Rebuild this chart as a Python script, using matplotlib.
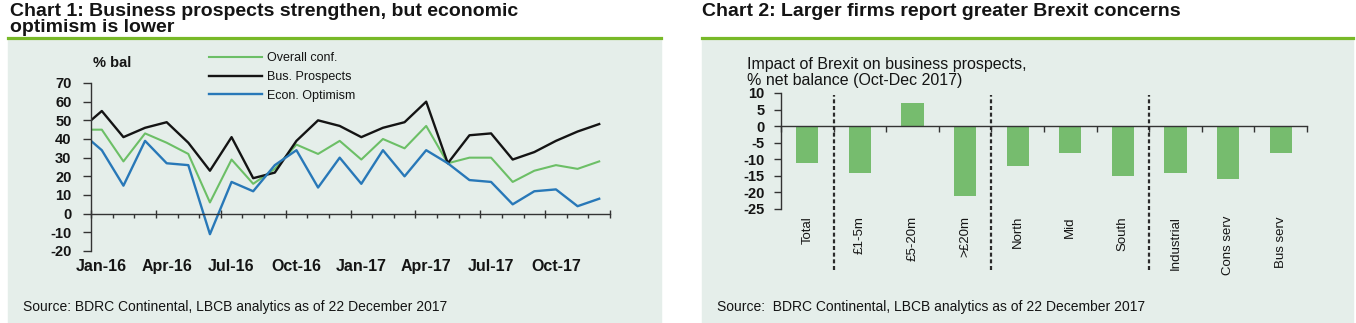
import numpy as np
import matplotlib.pyplot as plt
import matplotlib.transforms as mtrans
from matplotlib.lines import Line2D
from matplotlib.patches import Rectangle

plt.rcParams['font.family'] = ['Liberation Sans', 'DejaVu Sans']
plt.rcParams['axes.unicode_minus'] = False

# --- chart 1: monthly survey balances (% bal); the opening reading sits on the axis edge
months = ['Jan-16', 'Feb-16', 'Mar-16', 'Apr-16', 'May-16', 'Jun-16',
          'Jul-16', 'Aug-16', 'Sep-16', 'Oct-16', 'Nov-16', 'Dec-16',
          'Jan-17', 'Feb-17', 'Mar-17', 'Apr-17', 'May-17', 'Jun-17',
          'Jul-17', 'Aug-17', 'Sep-17', 'Oct-17', 'Nov-17', 'Dec-17']
overall_conf = [45, 45, 28, 43, 38, 32, 6, 29, 16, 24, 37, 32, 39,
                29, 40, 35, 47, 27, 30, 30, 17, 23, 26, 24, 28]
bus_prospects = [50, 55, 41, 46, 49, 38, 23, 41, 19, 22, 39, 50, 47,
                 41, 46, 49, 60, 27, 42, 43, 29, 33, 39, 44, 48]
econ_optimism = [39, 34, 15, 39, 27, 26, -11, 17, 12, 26, 34, 14, 30,
                 16, 34, 20, 34, 27, 18, 17, 5, 12, 13, 4, 8]

# --- chart 2: impact of Brexit on business prospects, % net balance
categories = ['Total', '£1-5m', '£5-20m', '>£20m', 'North', 'Mid', 'South',
              'Industrial', 'Cons serv', 'Bus serv']
brexit_impact = [-11, -14, 7, -21, -12, -8, -15, -14, -16, -8]
group_sizes = [1, 3, 3, 3]   # total / turnover / region / sector

source = 'BDRC Continental, LBCB analytics as of 22 December 2017'

W, H = 1356, 323
BG = '#e5eeea'
RULE = '#78b928'
GREEN = '#6cbf66'
BLUE = '#2878b8'
BLACK = '#141414'
BAR = '#76bc6e'
TXT = '#141414'
AXC = '#333333'


def fx(px):
    return px / W


def fy(py):
    return 1 - py / H


fig = plt.figure(figsize=(W / 100, H / 100), dpi=100)
fig.patch.set_facecolor('white')

# panel backgrounds and green rules under the titles
for x0, x1 in [(8, 661), (702, 1353)]:
    fig.add_artist(Rectangle((fx(x0), 0), fx(x1 - x0), fy(38.5),
                             transform=fig.transFigure, color=BG, zorder=0))
    fig.add_artist(Line2D([fx(x0), fx(x1)], [fy(37.5)] * 2, color=RULE,
                          lw=2.3, transform=fig.transFigure))

fig.text(fx(10), fy(3), 'Chart 1: Business prospects strengthen, but economic\noptimism is lower',
         ha='left', va='top', fontsize=14, fontweight='bold', linespacing=0.95, color=TXT)
fig.text(fx(702), fy(3), 'Chart 2: Larger firms report greater Brexit concerns',
         ha='left', va='top', fontsize=14, fontweight='bold', color=TXT)

# ---------------- chart 1 ----------------
ax1 = fig.add_axes([fx(91), fy(251), fx(610 - 91), (251 - 83) / H])
ax1.set_facecolor('none')
x = np.concatenate(([-0.5], np.arange(len(months))))
ax1.plot(x, overall_conf, color=GREEN, lw=1.5, label='Overall conf.')
ax1.plot(x, bus_prospects, color=BLACK, lw=1.7, label='Bus. Prospects')
ax1.plot(x, econ_optimism, color=BLUE, lw=1.7, label='Econ. Optimism')
ax1.set_xlim(-0.5, len(months) - 0.5)
ax1.set_ylim(-20, 70)
ax1.set_yticks(range(-20, 71, 10))
ax1.spines[['top', 'right']].set_visible(False)
ax1.spines['bottom'].set_position(('data', 0))
for sp in ax1.spines.values():
    sp.set_color(AXC)
    sp.set_linewidth(1.0)
ax1.set_xticks(np.arange(-0.5, len(months), 3))
ax1.set_xticks(np.arange(-0.5, len(months), 1), minor=True)
ax1.tick_params(axis='x', which='major', direction='inout', length=6, width=1.0,
                color=AXC, labelbottom=False)
ax1.tick_params(axis='x', which='minor', direction='out', length=3, width=1.0,
                color=AXC)
ax1.tick_params(axis='y', direction='out', length=6, width=1.0, color=AXC,
                labelsize=10.5, labelcolor=TXT, pad=8)
for lab in ax1.get_yticklabels():
    lab.set_fontweight('bold')
# month labels sit below the plot, not on the zero line
tr1 = mtrans.blended_transform_factory(ax1.transData, ax1.transAxes)
for i in range(0, len(months), 3):
    ax1.text(i, (251 - 271) / 168, months[i], transform=tr1, ha='center', va='baseline',
             fontsize=11.5, fontweight='bold', color=TXT)

fig.text(fx(93), fy(63), '% bal', ha='left', va='center', fontsize=10.5,
         fontweight='bold', color=TXT)
ax1.legend(loc='upper left', bbox_to_anchor=(fx(209), fy(52)), bbox_transform=fig.transFigure,
           frameon=False, fontsize=9, handlelength=4.2, handletextpad=0.45,
           labelspacing=0.55, borderpad=0, borderaxespad=0, labelcolor=TXT)

# ---------------- chart 2 ----------------
ax2 = fig.add_axes([fx(781), fy(209), fx(1307 - 781), (209 - 93) / H])
ax2.set_facecolor('none')
pos = np.arange(len(categories))
ax2.bar(pos, brexit_impact, width=0.42, color=BAR, zorder=2)
ax2.set_xlim(-0.5, len(categories) - 0.5)
ax2.set_ylim(-25, 10)
ax2.set_yticks(range(-25, 11, 5))
ax2.spines[['top', 'right']].set_visible(False)
ax2.spines['bottom'].set_position(('data', 0))
for sp in ax2.spines.values():
    sp.set_color(AXC)
    sp.set_linewidth(1.0)
    sp.set_zorder(3)
ax2.set_xticks(np.arange(-0.5, len(categories), 1))
ax2.tick_params(axis='x', direction='out', length=4, width=1.0, color=AXC,
                labelbottom=False)
ax2.tick_params(axis='y', direction='out', length=5, width=1.0, color=AXC,
                labelsize=10.5, labelcolor=TXT, pad=7)
for lab in ax2.get_yticklabels():
    lab.set_fontweight('bold')
tr2 = mtrans.blended_transform_factory(ax2.transData, ax2.transAxes)
for i, cat in enumerate(categories):
    ax2.text(i, (209 - 216) / 116, cat, transform=tr2, rotation=90, ha='center',
             va='top', fontsize=9.5, color=TXT)

# dashed separators between category groups
for b in np.cumsum(group_sizes)[:-1] - 0.5:
    ax2.axvline(b, ymin=(209 - 270) / 116, ymax=(209 - 95) / 116, clip_on=False,
                color='#2a2a2a', lw=1.6, dashes=(1.8, 1.2), zorder=4)

fig.text(fx(747), fy(72.5), 'Impact of Brexit on business prospects,\n% net balance (Oct-Dec 2017)',
         ha='left', va='center', fontsize=11.5, linespacing=1.05, color=TXT)

fig.text(fx(23), fy(307), 'Source: ' + source, ha='left', va='center', fontsize=10, color=TXT)
fig.text(fx(717), fy(307), 'Source:  ' + source, ha='left', va='center', fontsize=10, color=TXT)

fig.savefig('out.png', dpi=100, facecolor='white')
